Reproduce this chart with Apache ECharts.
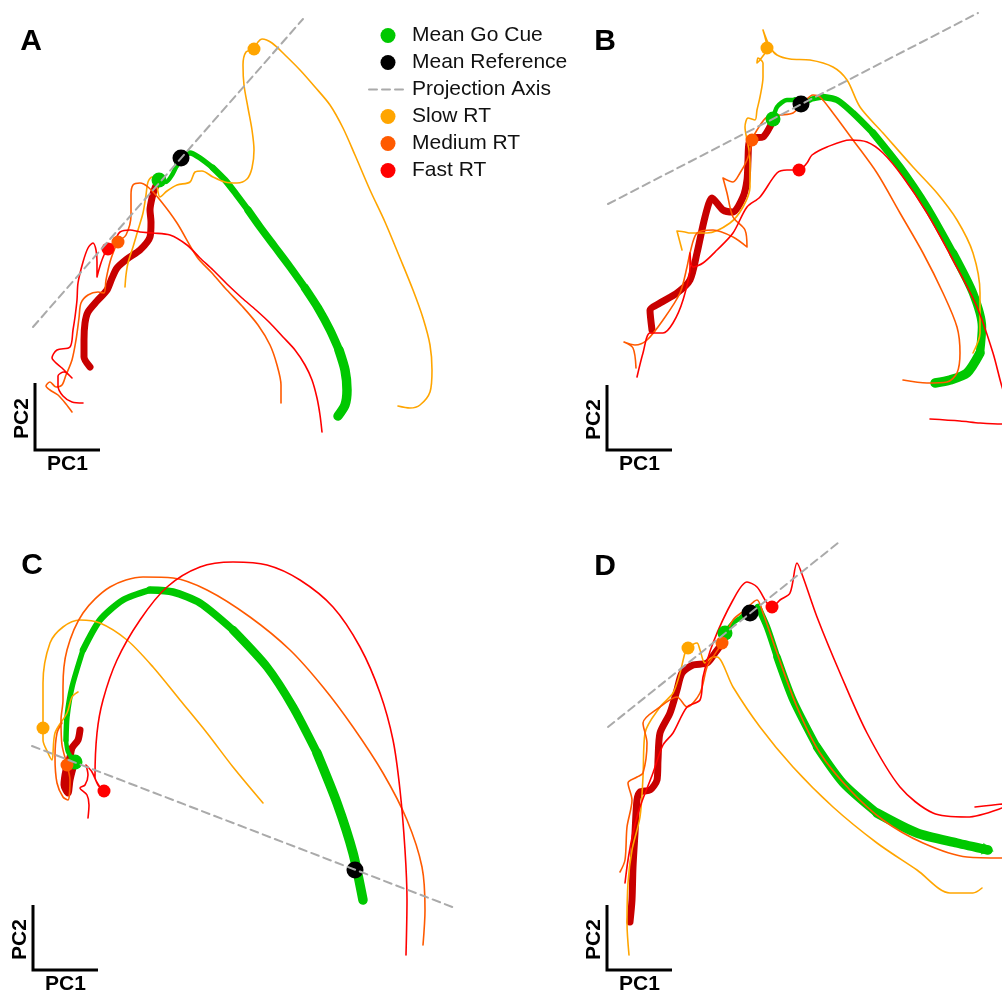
<!DOCTYPE html>
<html><head><meta charset="utf-8">
<script src="https://cdn.jsdelivr.net/npm/echarts@6/dist/echarts.min.js"></script>
<style>html,body{margin:0;padding:0;background:#fff}#c{width:1002px;height:997px}</style>
</head><body><div id="c"></div>
<script>
// ---------- Panel A ----------
const meanPreA = [[90,367],[84,357],[84,340],[85,323],[88,312],[97,301],[107,290],[112,278],[117,268],[127,259],[140,250],[150,237],[151,222],[150,210],[152,198],[155,188],[159,180]];
const meanPostA = [[159,180],[166,182],[172,175],[177,165],[181,158],[190,153],[200,158],[213,168],[225,180],[236,194],[248,210],[260,227],[275,247],[290,267],[305,288],[318,308],[330,330],[339,350],[345,370],[347,390],[345,405],[338,416]];
const slowA = [[125,287],[126,275],[128,263],[133,247],[138,230],[143,213],[146,195],[148,182],[152,177],[156,182],[160,197],[167,191],[177,185],[190,182],[195,172],[202,171],[213,177],[225,182],[237,183],[247,179],[252,168],[254,150],[252,130],[248,108],[244,85],[243,65],[246,52],[254,49],[258,42],[262,39],[272,43],[285,55],[300,70],[315,87],[330,105],[343,128],[355,155],[370,190],[385,222],[400,258],[413,290],[423,318],[430,345],[432,370],[430,392],[420,405],[410,408],[398,406]];
const mediumA = [[72,412],[66,404],[58,395],[50,390],[46,386],[50,382],[56,387],[62,385],[66,375],[72,360],[76,340],[79,318],[81,303],[88,295],[98,292],[104,293],[106,280],[110,262],[115,248],[118,242],[126,235],[131,215],[131,195],[133,185],[140,183],[148,187],[160,200],[177,223],[197,257],[212,273],[225,288],[242,306],[258,325],[270,345],[277,365],[281,385],[281,403]];
const fastA = [[83,403],[72,402],[63,396],[58,386],[58,376],[64,372],[72,378],[62,368],[55,362],[52,358],[57,350],[70,347],[73,330],[75,317],[77,300],[78,283],[83,262],[88,248],[93,243],[96,250],[97,262],[97,277],[100,266],[104,255],[108,249],[115,240],[120,232],[130,230],[140,232],[153,233],[170,235],[187,245],[200,258],[213,270],[228,285],[242,298],[256,310],[270,323],[283,337],[295,350],[305,365],[312,380],[317,398],[320,415],[322,432]];
const projA = [[33,327],[303,19]];
const goCueA = [159,180], refA = [181,158], slowCueA = [254,49], mediumCueA = [118,242], fastCueA = [108,249];

// ---------- Panel B ----------
const meanPreB = [[152,330],[150,310],[160,303],[177,293],[190,280],[197,253],[205,217],[212,198],[223,210],[233,212],[243,197],[247,180],[248,160],[249,143],[253,138],[263,137],[272,123],[273,120]];
const meanPostB = [[273,120],[277,107],[287,100],[295,100],[301,104],[312,99],[323,97],[337,100],[353,113],[373,133],[400,167],[427,207],[453,253],[473,293],[482,327],[480,353],[467,373],[450,380],[435,383]];
const slowB = [[182,250],[177,231],[185,232],[190,233],[207,233],[230,223],[243,207],[250,187],[250,163],[249,150],[247,140],[245,127],[248,118],[255,120],[257,110],[260,97],[263,77],[263,63],[258,58],[257,63],[260,60],[267,48],[263,30],[270,47],[277,55],[290,59],[310,60],[333,67],[347,80],[360,107],[383,133],[413,167],[437,193],[457,220],[473,253],[480,293],[480,333],[473,353]];
const mediumB = [[136,368],[133,348],[124,342],[135,345],[147,340],[163,320],[180,293],[187,267],[190,253],[197,233],[213,230],[233,237],[247,247],[245,230],[233,217],[227,193],[223,178],[233,182],[240,173],[247,160],[251,147],[252,140],[257,130],[267,117],[280,115],[293,113],[303,103],[313,95],[320,97],[333,113],[353,140],[377,173],[400,213],[423,253],[443,293],[457,327],[460,353],[457,373],[447,382],[427,383],[403,380]];
const fastB = [[137,377],[143,353],[150,333],[163,333],[173,323],[183,300],[190,267],[190,253],[193,267],[203,263],[217,250],[233,233],[247,207],[260,197],[277,173],[287,170],[299,170],[307,163],[312,155],[327,147],[350,140],[367,142],[383,153],[403,177],[427,213],[453,260],[477,307],[493,353],[503,390],[512,410],[510,424],[502,424],[480,423],[460,421],[430,419]];
const projB = [[108,204],[478,13]];
const goCueB = [273,119], refB = [301,104], slowCueB = [267,48], mediumCueB = [252,140], fastCueB = [299,170];

// ---------- Panel C ----------
const meanPreC = [[80,230],[78,240],[72,248],[70,257],[66,270],[64,285],[68,293],[70,280],[73,268],[75,262]];
const meanPostC = [[75,262],[68,252],[66,240],[67,217],[72,187],[83,150],[100,120],[123,100],[150,90],[173,92],[200,103],[233,130],[267,167],[293,207],[317,253],[337,303],[353,353],[363,400]];
const slowC = [[78,192],[72,197],[67,213],[55,233],[52,260],[48,253],[43,240],[43,228],[43,217],[43,183],[50,143],[63,127],[80,120],[100,123],[127,140],[153,167],[180,200],[207,233],[233,267],[263,303]];
const mediumC = [[62,223],[57,233],[55,257],[57,283],[63,297],[68,300],[70,280],[67,265],[62,245],[61,220],[63,200],[63,187],[67,150],[83,113],[110,87],[143,77],[173,78],[207,90],[250,117],[290,150],[323,187],[353,227],[383,273],[407,320],[422,367],[425,410],[423,445]];
const fastC = [[88,318],[89,305],[87,295],[80,288],[85,285],[88,275],[86,265],[92,272],[98,285],[104,291],[100,287],[95,277],[97,233],[103,200],[117,160],[140,120],[167,87],[200,67],[233,62],[267,65],[300,80],[333,107],[360,147],[380,193],[393,240],[400,290],[405,350],[407,400],[406,455]];
const projC = [[32,246],[455,408]];
const goCueC = [75,262], refC = [355,370], slowCueC = [43,228], mediumCueC = [67,265], fastCueC = [104,291];

// ---------- Panel D ----------
const meanPreD = [[130,422],[132,400],[133,367],[135,333],[137,300],[140,292],[150,290],[157,280],[158,260],[160,233],[170,213],[177,190],[182,173],[193,165],[207,163],[215,153],[222,143],[225,133]];
const meanPostD = [[225,133],[233,123],[242,117],[250,113],[258,107],[267,127],[277,157],[293,200],[317,247],[343,283],[377,313],[417,333],[457,343],[488,350]];
const slowD = [[129,455],[127,423],[128,383],[132,350],[140,317],[143,277],[145,233],[160,207],[173,193],[180,173],[185,153],[188,148],[197,143],[200,150],[205,163],[213,157],[217,157],[233,187],[260,227],[293,267],[333,307],[377,343],[417,370],[450,393],[473,393],[482,388]];
const mediumD = [[120,372],[125,360],[127,327],[132,300],[128,283],[137,277],[143,273],[147,243],[143,223],[160,207],[177,197],[187,207],[200,193],[207,167],[213,157],[222,143],[233,120],[245,110],[257,100],[263,113],[277,153],[297,207],[320,253],[350,290],[383,320],[423,343],[467,357],[502,358],[510,355]];
const fastD = [[125,383],[128,360],[133,333],[140,307],[153,273],[163,245],[173,233],[187,207],[200,200],[203,177],[213,143],[233,100],[247,82],[257,87],[267,103],[272,107],[280,100],[290,93],[297,63],[303,77],[317,117],[340,173],[367,233],[400,287],[433,313],[467,317],[502,308],[510,302],[502,304],[475,307]];
const projD = [[108,227],[338,43]];
const goCueD = [225,133], refD = [250,113], slowCueD = [188,148], mediumCueD = [222,143], fastCueD = [272,107];

const panelLabels = ['A','B','C','D'];
const legendNames = ['Mean Go Cue','Mean Reference','Projection Axis','Slow RT','Medium RT','Fast RT'];
const axisLabelPC1 = 'PC1', axisLabelPC2 = 'PC2';

// ---------- styling ----------
const GREEN = '#00c800', DARKRED = '#c80000', SLOW = '#ffa500', MED = '#ff5a00', FAST = '#ff0000', BLACK = '#000000', PROJ = '#aaaaaa';
const FONT = '"Liberation Sans", Arial, Helvetica, sans-serif';

const panels = [
  {pre: meanPreA, post: meanPostA, slow: slowA, med: mediumA, fast: fastA, proj: projA, go: goCueA, ref: refA, sc: slowCueA, mc: mediumCueA, fc: fastCueA},
  {pre: meanPreB, post: meanPostB, slow: slowB, med: mediumB, fast: fastB, proj: projB, go: goCueB, ref: refB, sc: slowCueB, mc: mediumCueB, fc: fastCueB},
  {pre: meanPreC, post: meanPostC, slow: slowC, med: mediumC, fast: fastC, proj: projC, go: goCueC, ref: refC, sc: slowCueC, mc: mediumCueC, fc: fastCueC},
  {pre: meanPreD, post: meanPostD, slow: slowD, med: mediumD, fast: fastD, proj: projD, go: goCueD, ref: refD, sc: slowCueD, mc: mediumCueD, fc: fastCueD, arrow: true}
];
const boxes = [
  {left: 0, top: 0, width: 501, height: 499},
  {left: 500, top: 0, width: 502, height: 499},
  {left: 0, top: 500, width: 501, height: 497},
  {left: 500, top: 500, width: 502, height: 497}
];

const grid = [], xAxis = [], yAxis = [], series = [];
function line(name, data, i, color, width, z, dash, smooth) {
  series.push({
    type: 'line', name, data, xAxisIndex: i, yAxisIndex: i, symbol: 'none', showSymbol: false,
    silent: true, animation: false, z, clip: true, smooth: smooth || 0,
    lineStyle: {color, width, cap: 'round', join: 'round', type: dash || 'solid'}
  });
}
function dot(name, pt, i, color, size, z) {
  series.push({type: 'scatter', name, data: [pt], xAxisIndex: i, yAxisIndex: i, symbol: 'circle', symbolSize: size,
    itemStyle: {color, opacity: 1}, silent: true, animation: false, z});
}
panels.forEach((p, i) => {
  const b = boxes[i];
  grid.push({left: b.left, top: b.top, width: b.width, height: b.height, show: false});
  xAxis.push({type: 'value', gridIndex: i, min: 0, max: b.width, show: false});
  yAxis.push({type: 'value', gridIndex: i, min: 0, max: b.height, inverse: true, show: false});
  line('pre', p.pre, i, DARKRED, 7, 2, null, 0.25);
  // green mean trajectory, getting thicker along time
  const k = 6, n = p.post.length;
  for (let s = 0; s < k; s++) {
    const a = Math.floor(s * (n - 1) / k), e = Math.max(a + 1, Math.floor((s + 1) * (n - 1) / k));
    line('post', p.post.slice(a, e + 1), i, GREEN, 4.5 + 5 * s / (k - 1), 2, null, 0.25);
  }
  if (p.arrow) {
    const e = p.post[n - 1], q = p.post[n - 2];
    const ang = Math.atan2(-(e[1] - q[1]), e[0] - q[0]) * 180 / Math.PI - 90;
    series.push({type: 'scatter', name: 'arrow', data: [e], xAxisIndex: i, yAxisIndex: i, symbol: 'triangle',
      symbolSize: [12, 12], symbolRotate: ang, itemStyle: {color: GREEN}, silent: true, animation: false, z: 2});
  }
  line('slow', p.slow, i, SLOW, 1.6, 3, null, 0.3);
  line('med', p.med, i, MED, 1.6, 3, null, 0.3);
  line('fast', p.fast, i, FAST, 1.6, 3, null, 0.3);
  dot('Mean Go Cue', p.go, i, GREEN, 15, 4);
  dot('Mean Reference', p.ref, i, BLACK, 17, 4);
  dot('Slow RT', p.sc, i, SLOW, 13, 5);
  dot('Medium RT', p.mc, i, MED, 13, 5);
  dot('Fast RT', p.fc, i, FAST, 13, 5);
  line('Projection Axis', p.proj, i, PROJ, 2, 6, [8, 5]);
});

// panel letters and PC scale bars
const graphic = [];
const letterPos = [[31,42],[605,42],[32,566],[605,567]];
const barPos = [[35,383,450,100],[607,385,450,672],[33,905,970,98],[607,905,970,672]];
panelLabels.forEach((t, i) => {
  graphic.push({type: 'text', x: letterPos[i][0], y: letterPos[i][1], silent: true,
    style: {text: t, fill: '#000', font: 'bold 30px ' + FONT, align: 'center', verticalAlign: 'middle'}});
  const [x, y0, y1, x1] = barPos[i];
  graphic.push({type: 'polyline', silent: true, shape: {points: [[x, y0], [x, y1], [x1, y1]]},
    style: {stroke: '#000', lineWidth: 3, fill: null}});
  graphic.push({type: 'text', x: x - 13, y: (y0 + y1) / 2 + 2, rotation: Math.PI / 2, silent: true,
    style: {text: axisLabelPC2, fill: '#000', font: 'bold 21px ' + FONT, align: 'center', verticalAlign: 'middle'}});
  graphic.push({type: 'text', x: (x + x1) / 2, y: y1 + 14, silent: true,
    style: {text: axisLabelPC1, fill: '#000', font: 'bold 21px ' + FONT, align: 'center', verticalAlign: 'middle'}});
});

const chart = echarts.init(document.getElementById('c'), null, {renderer: 'canvas'});
chart.setOption({
  backgroundColor: '#fff',
  animation: false,
  grid, xAxis, yAxis, series, graphic,
  legend: {
    orient: 'vertical', left: 363, top: 20, itemWidth: 38, itemHeight: 15, itemGap: 6,
    selectedMode: false,
    textStyle: {fontSize: 21, color: '#111', fontFamily: FONT, lineHeight: 20.6},
    data: legendNames.map(nm => nm === 'Projection Axis'
      ? {name: nm, itemStyle: {opacity: 0}, lineStyle: {color: PROJ, width: 2, type: [8, 5], opacity: 1}}
      : {name: nm, icon: 'circle'})
  }
});
</script></body></html>
